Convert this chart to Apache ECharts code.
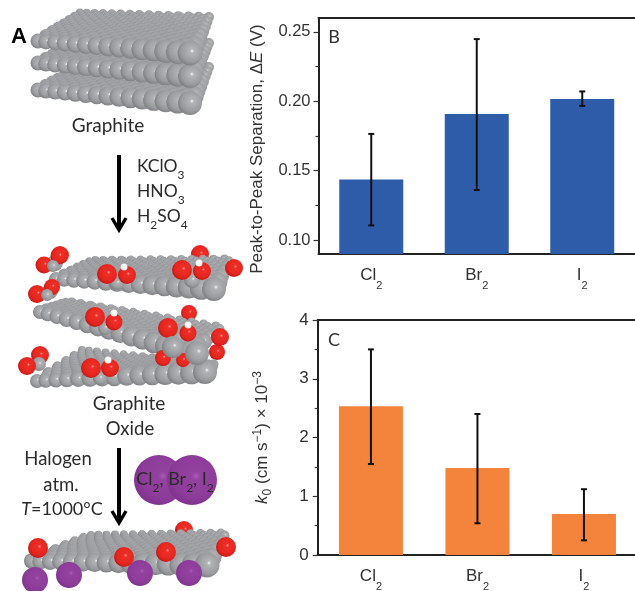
<!DOCTYPE html>
<html><head><meta charset="utf-8">
<style>html,body{margin:0;padding:0;background:#fff}#c{width:635px;height:591px}</style>
<script src="https://cdn.jsdelivr.net/npm/echarts@6/dist/echarts.min.js"></script>
</head><body><div id="c"></div>
<script>
const categories = ['Cl', 'Br', 'I'];
const subscripts = ['2', '2', '2'];
const peakSeparation = [0.1436, 0.1909, 0.2017];
const peakSeparationLow = [0.1106, 0.1361, 0.1967];
const peakSeparationHigh = [0.1765, 0.2448, 0.2071];
const rateConstant = [2.53, 1.48, 0.70];
const rateConstantLow = [1.55, 0.54, 0.25];
const rateConstantHigh = [3.50, 2.40, 1.12];
const peakMajorTicks = [0.10, 0.15, 0.20, 0.25];
const peakMinorTicks = [0.125, 0.175, 0.225];

const SANS = '"Liberation Sans", Arial, sans-serif';
const CAL = 'Lato, "Open Sans", sans-serif';
const INK = '#333333';

const catLabels = categories.map((c, i) => '{n|' + c + '}{s|' + subscripts[i] + '}');
const catRich = {
  n: {fontFamily: SANS, fontSize: 17, color: INK, lineHeight: 24, verticalAlign: 'top'},
  s: {fontFamily: SANS, fontSize: 11, color: INK, lineHeight: 24, verticalAlign: 'bottom', padding: [6, 0, 0, 0]}
};

function errorSeries(xAxisIndex, yAxisIndex, low, high) {
  return {
    type: 'custom', xAxisIndex, yAxisIndex, z: 5, silent: true,
    data: categories.map((c, i) => [i, low[i], high[i]]),
    encode: {x: 0, y: [1, 2]},
    renderItem(params, api) {
      const a = api.coord([api.value(0), api.value(1)]);
      const b = api.coord([api.value(0), api.value(2)]);
      const st = {stroke: '#111', lineWidth: 2, fill: null};
      const cap = 3;
      return {type: 'group', children: [
        {type: 'line', shape: {x1: a[0], y1: a[1], x2: b[0], y2: b[1]}, style: st},
        {type: 'line', shape: {x1: a[0] - cap, y1: a[1], x2: a[0] + cap, y2: a[1]}, style: st},
        {type: 'line', shape: {x1: b[0] - cap, y1: b[1], x2: b[0] + cap, y2: b[1]}, style: st}
      ]};
    }
  };
}

const axisLineStyle = {show: true, lineStyle: {color: '#222', width: 2}};
const tickStyle = {color: '#333', width: 1.2};

function xAxes(gridIndex, margin) {
  return [
    {gridIndex, type: 'category', data: categories, position: 'bottom',
      axisLine: axisLineStyle, axisTick: {show: false},
      axisLabel: {margin, formatter: (v, i) => catLabels[i], rich: catRich}},
    {gridIndex, type: 'category', data: categories, position: 'top',
      axisLine: axisLineStyle, axisTick: {show: false}, axisLabel: {show: false}}
  ];
}

/* ---------- illustration built from shaded spheres ---------- */
const art = [];
const GRAY = ['#f6f7f7', '#b2b4b6', '#9a9c9f', '#7b7d80'];
const RED = ['#ff9a90', '#ee2f28', '#e5261f', '#c01712'];
const PURPLE = ['#a85cb4', '#94429f', '#8d3c9a', '#80328e'];
const WHITE = ['#ffffff', '#ffffff', '#f2f2f2', '#d8d8d8'];
function sphere(x, y, r, pal) {
  art.push({type: 'circle', silent: true, shape: {cx: x, cy: y, r},
    style: {fill: {type: 'radial', x: 0.58, y: 0.42, r: 0.62, colorStops: [
      {offset: 0, color: pal[0]}, {offset: 0.14, color: pal[1]},
      {offset: 0.68, color: pal[2]}, {offset: 1, color: pal[3]}]}}});
}
function lerp(a, b, t) { return a + (b - a) * t; }
function sheet(fl, fr, bl, br, cols, rows) {
  for (let j = rows; j >= 0; j--) {
    const v = j / rows;
    const depth = Math.pow(v, 0.85);
    for (let i = 0; i <= cols; i++) {
      const u = Math.pow((i + (j % 2 ? 0.5 : 0)) / cols, 1.12);
      if (u > 1) continue;
      const x = lerp(lerp(fl[0], fr[0], u), lerp(bl[0], br[0], u), depth);
      const y = lerp(lerp(fl[1], fr[1], u), lerp(bl[1], br[1], u), depth);
      const rf = lerp(fl[2], fr[2], u), rb = lerp(bl[2], br[2], u);
      sphere(x, y, lerp(rf, rb, Math.pow(v, 0.7)), GRAY);
    }
  }
}
function text(str, x, y, size, extra) {
  art.push({type: 'text', silent: true, x, y, z: 10, style: Object.assign({
    text: str, fontFamily: CAL, fontSize: size, fill: '#2b2b2b', align: 'center', verticalAlign: 'middle'
  }, extra || {})});
}
function arrow(x, y1, y2) {
  art.push({type: 'line', silent: true, z: 9, shape: {x1: x, y1, x2: x, y2: y2 - 2}, style: {stroke: '#000', lineWidth: 4}});
  art.push({type: 'polyline', silent: true, z: 9, shape: {points: [[x - 7, y2 - 14], [x, y2 - 2], [x + 7, y2 - 14]]},
    style: {stroke: '#000', lineWidth: 3.4, fill: null}});
}

// stacked graphite
sheet([38, 90, 7.5], [190, 103, 12], [80, 66, 4.5], [209, 67, 5], 14, 14);
sheet([38, 63, 7.5], [190, 76, 12], [80, 40, 4.5], [209, 43, 5], 14, 14);
sheet([38, 41, 7.5], [190, 53, 12.5], [80, 13, 4.5], [209, 17, 5], 14, 14);

// graphite oxide, top sheet
sphere(60, 255, 9, RED); sphere(200, 254, 9, RED);
sheet([56, 279, 7], [214, 289, 12], [92, 260, 4], [230, 259, 4.5], 14, 11);
sphere(55, 263, 8, GRAY); sphere(44, 265, 8.5, RED); sphere(59, 256, 8.5, RED); sphere(53, 266, 6, GRAY);
sphere(50, 291, 8, GRAY); sphere(37, 294, 9, RED); sphere(52, 287, 8, RED); sphere(47, 295, 6, GRAY);
sphere(117, 283, 7, GRAY); sphere(107, 274, 10, RED); sphere(127, 275, 9, RED); sphere(124, 267, 3.5, WHITE);
sphere(192, 280, 8, GRAY); sphere(182, 270, 10, RED); sphere(202, 271, 9, RED); sphere(199, 263, 3.5, WHITE);
sphere(234, 268, 9, RED);

// graphite oxide, middle sheet
sphere(189, 313, 8, RED);
sheet([40, 312, 7], [190, 352, 12], [68, 301, 4], [222, 327, 4.5], 14, 11);
sphere(105, 328, 7, GRAY); sphere(95, 317, 10, RED); sphere(114, 322, 8.5, RED); sphere(114, 313, 3.5, WHITE);
sphere(178, 340, 8, GRAY); sphere(168, 328, 10, RED); sphere(188, 333, 8.5, RED); sphere(188, 325, 3.5, WHITE);
sphere(217, 352, 8, RED); sphere(220, 337, 9, RED);

// graphite oxide, bottom sheet
sheet([37, 381, 7], [205, 372, 12], [82, 350, 4], [214, 364, 4.5], 14, 10);
sphere(163, 358, 8, RED); sphere(183, 360, 7, RED);
sphere(173, 347, 11, GRAY); sphere(197, 353, 12, GRAY);
sphere(40, 355, 9, RED); sphere(39, 364, 7, GRAY); sphere(27, 366, 9, RED);
sphere(100, 378, 7, GRAY); sphere(91, 368, 10, RED); sphere(110, 368, 9, RED); sphere(108, 360, 3.5, WHITE);

// halogen molecule
sphere(159, 480, 25, PURPLE); sphere(192, 480, 25, PURPLE);

// doped sheet
sphere(184, 530, 9, RED);
sheet([32, 561, 8], [207, 565, 12.5], [88, 535, 4], [226, 533, 4.5], 15, 11);
sphere(35, 580, 13, PURPLE); sphere(69, 575, 13, PURPLE); sphere(140, 573, 13, PURPLE); sphere(189, 573, 13, PURPLE);
sphere(38, 548, 10, RED); sphere(124, 557, 10, RED); sphere(166, 552, 10, RED); sphere(226, 547, 10, RED);

const chemRich = {
  a: {fontFamily: CAL, fontSize: 17.5, color: '#2b2b2b', lineHeight: 24, verticalAlign: 'top'},
  b: {fontFamily: CAL, fontSize: 12, color: '#2b2b2b', lineHeight: 24, verticalAlign: 'bottom', padding: [5, 0, 0, 0]}
};
text('A', 19, 37, 22, {fontWeight: 'bold', fill: '#000', fontFamily: '"Liberation Sans", sans-serif'});
text('Graphite', 108, 126, 19);
arrow(119, 155, 232);
text('{a|KClO}{b|3}', 137, 169, 17, {align: 'left', rich: chemRich});
text('{a|HNO}{b|3}', 137, 194, 17, {align: 'left', rich: chemRich});
text('{a|H}{b|2}{a|SO}{b|4}', 137, 219, 17, {align: 'left', rich: chemRich});
text('Graphite', 129, 404, 19);
text('Oxide', 130, 429, 18.5);
text('Halogen', 58, 459, 18.5);
text('atm.', 61, 485, 18.5);
text('{i|T}{a|=1000°C}', 62, 509, 18, {rich: {
  a: {fontFamily: CAL, fontSize: 18, color: '#2b2b2b', lineHeight: 24},
  i: {fontFamily: CAL, fontSize: 18, fontStyle: 'italic', color: '#2b2b2b', lineHeight: 24}}});
arrow(119, 448, 525);
text('{a|Cl}{b|2}{a|, Br}{b|2}{a|, I}{b|2}', 175, 482, 18, {rich: {
  a: Object.assign({}, chemRich.a, {color: '#2a0f33', fontSize: 18}),
  b: Object.assign({}, chemRich.b, {color: '#2a0f33'})}});
text('B', 334, 37, 18, {fill: '#333'});
text('C', 334, 340, 18, {fill: '#333'});

const nameRich = {
  r: {fontFamily: SANS, fontSize: 17, color: INK, lineHeight: 22},
  i: {fontFamily: SANS, fontSize: 17, fontStyle: 'italic', color: INK, lineHeight: 22},
  sub: {fontFamily: SANS, fontSize: 12, color: INK, lineHeight: 22, verticalAlign: 'bottom', padding: [4, 0, 0, 0]},
  sup: {fontFamily: SANS, fontSize: 12, color: INK, lineHeight: 22, verticalAlign: 'top', padding: [0, 0, 3, 0]}
};

const option = {
  animation: false,
  backgroundColor: '#fff',
  grid: [
    {left: 318.5, top: 18, width: 316.5, height: 236, containLabel: false, outerBoundsMode: 'none'},
    {left: 317.7, top: 320, width: 319.5, height: 235, containLabel: false, outerBoundsMode: 'none'}
  ],
  xAxis: [...xAxes(0, 13), ...xAxes(1, 13)],
  yAxis: [
    {gridIndex: 0, type: 'value', min: 0.09, max: 0.26, position: 'left', splitLine: {show: false},
      name: '{r|Peak-to-Peak Separation, Δ}{i|E}{r| (V)}', nameLocation: 'middle', nameRotate: 90, nameGap: 50,
      nameTextStyle: {rich: nameRich, padding: [0, 26, 0, 0]},
      axisLine: axisLineStyle,
      axisTick: {show: true, length: 5, lineStyle: tickStyle, customValues: peakMajorTicks},
      axisLabel: {fontFamily: SANS, fontSize: 16.5, color: INK, margin: 8, customValues: peakMajorTicks, formatter: v => v.toFixed(2)}},
    {gridIndex: 0, type: 'value', min: 0.09, max: 0.26, position: 'left', splitLine: {show: false},
      axisLine: {show: false}, axisLabel: {show: false},
      axisTick: {show: true, length: 3, lineStyle: tickStyle, customValues: peakMinorTicks}},
    {gridIndex: 1, type: 'value', min: 0, max: 4, interval: 1, position: 'left', splitLine: {show: false},
      name: '{i|k}{sub|0}{r| (cm s}{sup|−1}{r|) × 10}{sup|−3}', nameLocation: 'middle', nameRotate: 90, nameGap: 44,
      nameTextStyle: {rich: nameRich},
      axisLine: axisLineStyle,
      axisTick: {show: true, length: 5, lineStyle: tickStyle},
      minorTick: {show: true, splitNumber: 2, length: 3, lineStyle: tickStyle},
      axisLabel: {fontFamily: SANS, fontSize: 17, color: INK, margin: 9}}
  ],
  series: [
    {type: 'bar', xAxisIndex: 0, yAxisIndex: 0, data: peakSeparation, barWidth: 64,
      itemStyle: {color: '#2e5ca9'}, silent: true},
    errorSeries(0, 0, peakSeparationLow, peakSeparationHigh),
    {type: 'bar', xAxisIndex: 2, yAxisIndex: 2, data: rateConstant, barWidth: 64,
      itemStyle: {color: '#f4843b'}, silent: true},
    errorSeries(2, 2, rateConstantLow, rateConstantHigh)
  ],
  graphic: {elements: art}
};
const chart = echarts.init(document.getElementById('c'), null, {renderer: 'canvas'});
chart.setOption(option);
</script></body></html>
